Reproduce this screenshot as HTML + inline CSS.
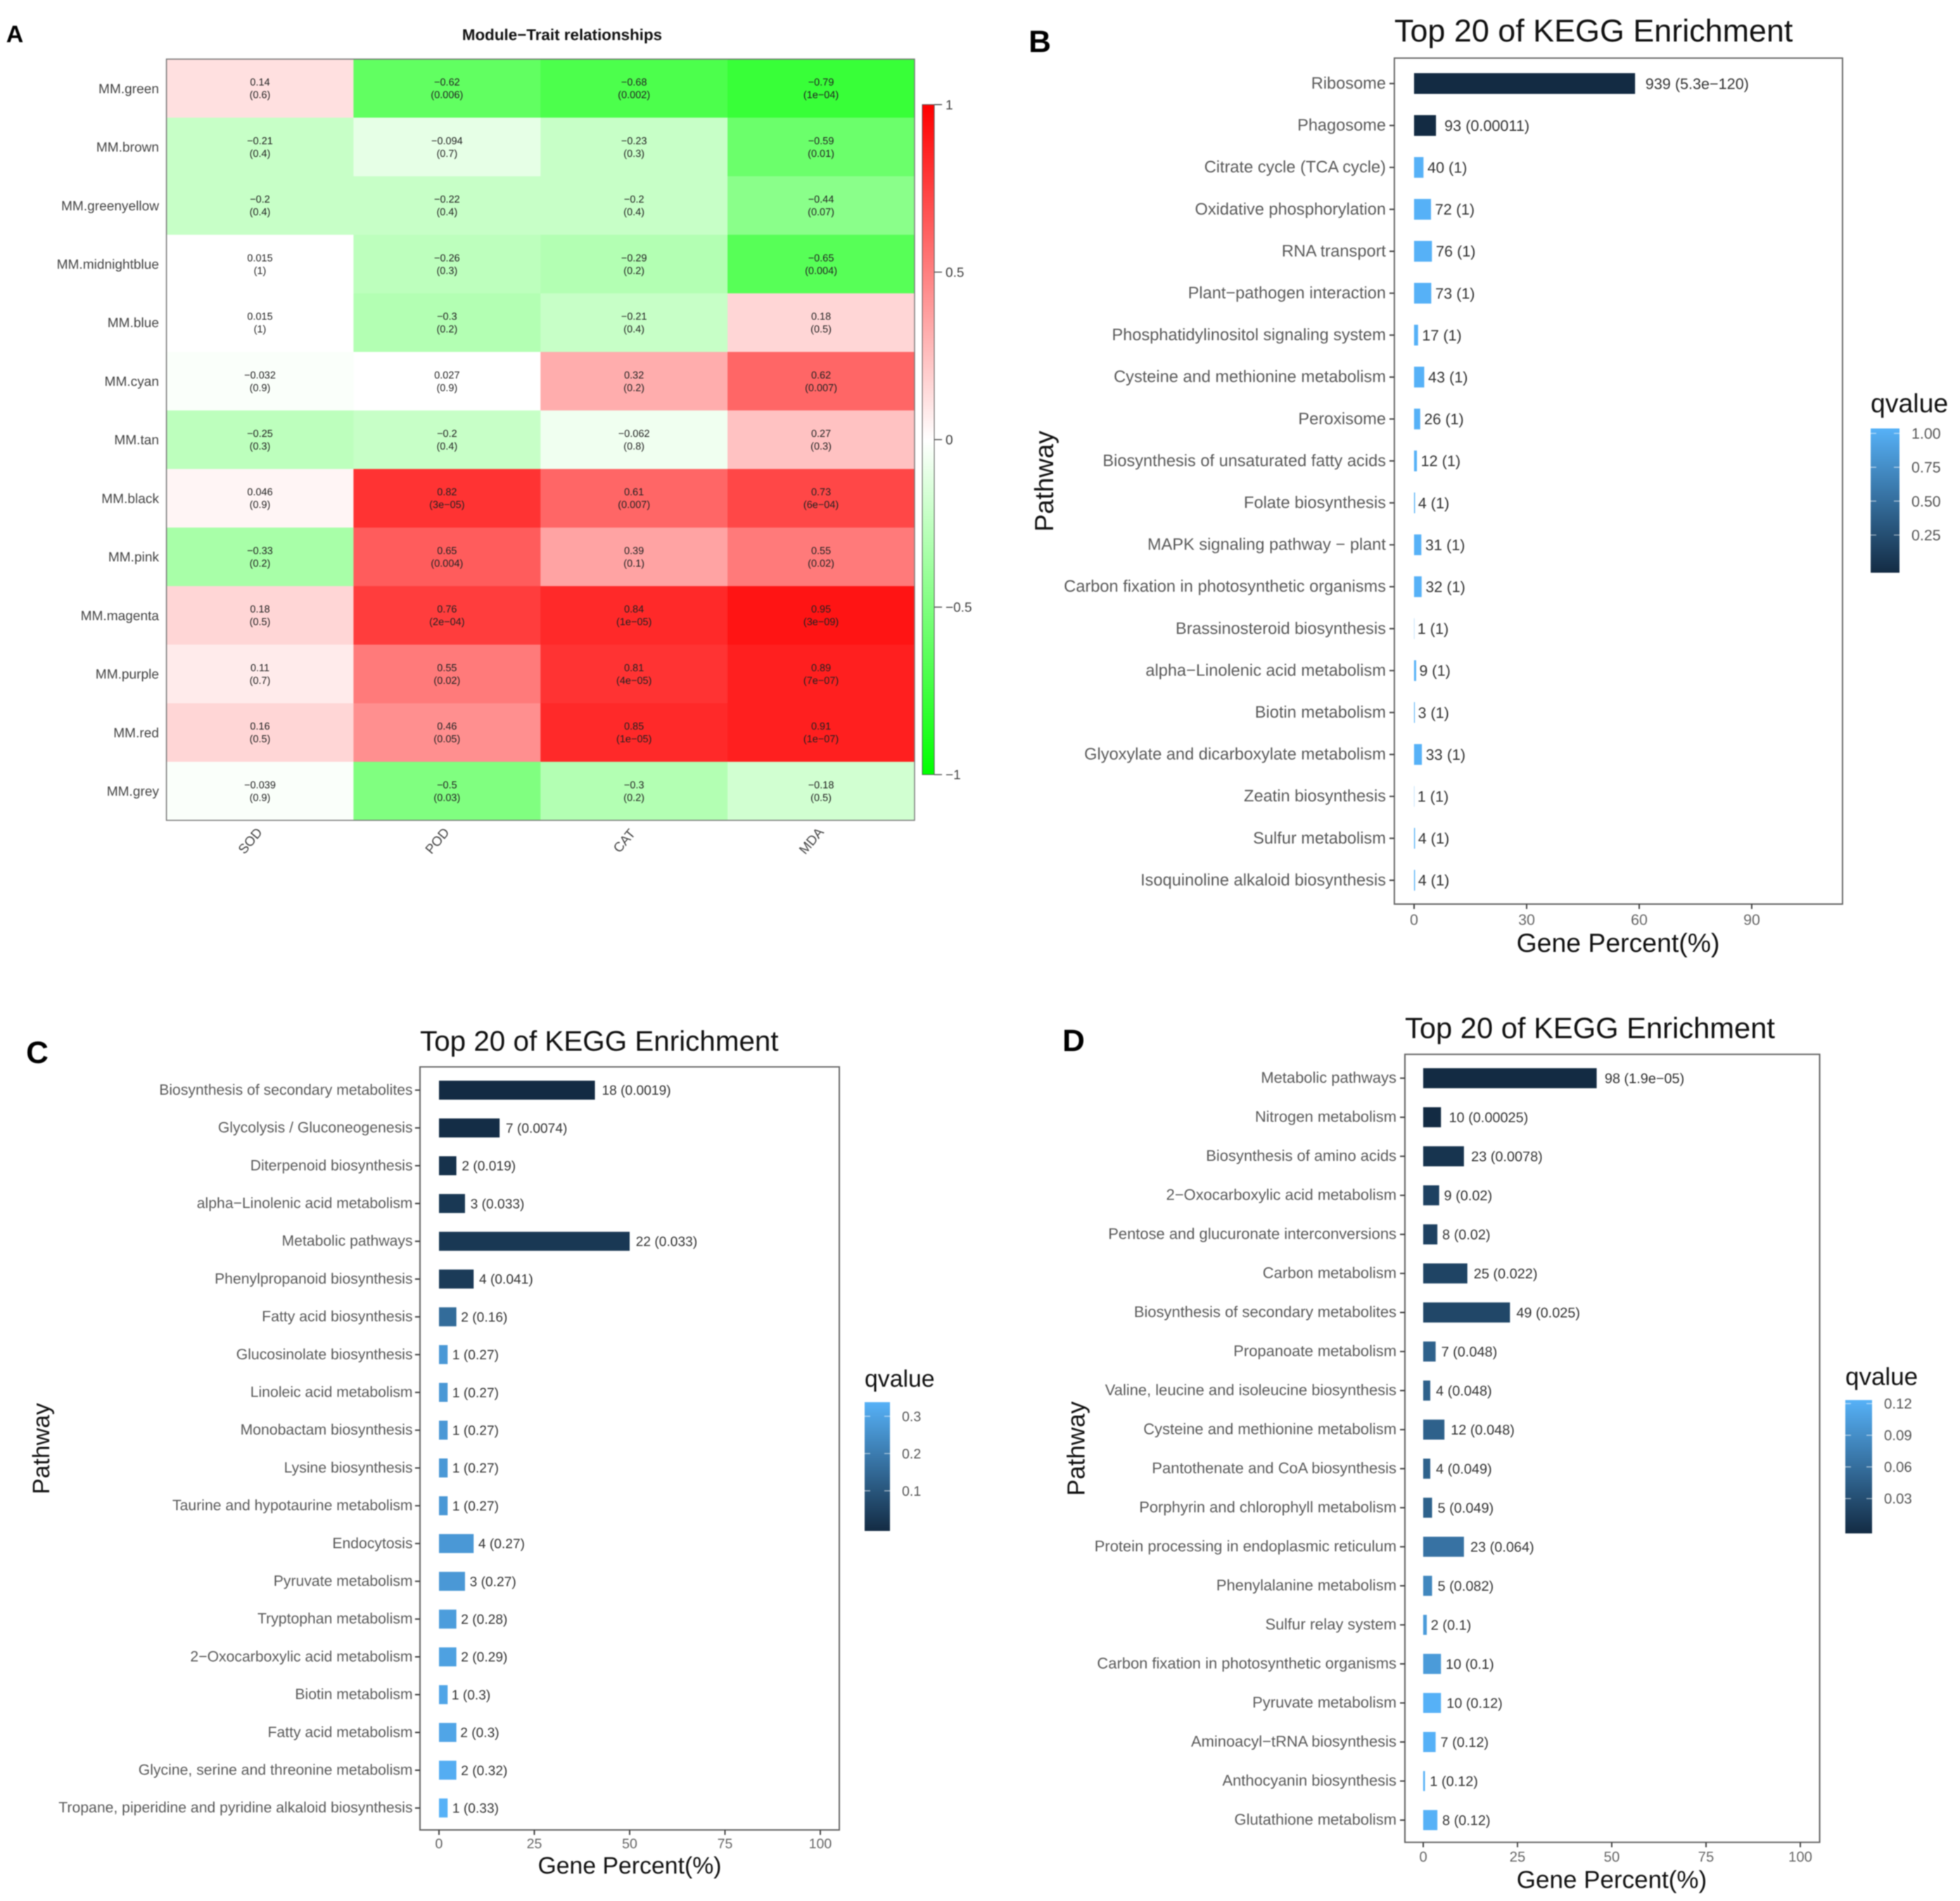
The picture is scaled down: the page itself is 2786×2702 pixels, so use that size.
<!DOCTYPE html>
<html lang="en">
<head>
<meta charset="utf-8">
<title>Module-Trait relationships and KEGG enrichment</title>
<style>
html,body{margin:0;padding:0;background:#fff;}
svg{display:block;font-family:"Liberation Sans",Arial,sans-serif;text-rendering:geometricPrecision;filter:blur(0.7px);}
</style>
</head>
<body>
<svg id="figure" xmlns="http://www.w3.org/2000/svg" width="2786" height="2702" viewBox="0 0 2786 2702">
<defs>
<linearGradient id="heat-gradient" x1="0" y1="0" x2="0" y2="1">
<stop offset="0" stop-color="#ff0000"/><stop offset="0.5" stop-color="#ffffff"/><stop offset="1" stop-color="#00ff00"/>
</linearGradient>
<linearGradient id="q-gradient" x1="0" y1="0" x2="0" y2="1">
<stop offset="0" stop-color="#56B1F7"/><stop offset="1" stop-color="#132B43"/>
</linearGradient>
</defs>
<rect width="2786" height="2702" fill="#fff"/>

<text x="21" y="60" font-size="34" font-weight="700" text-anchor="middle" fill="#000">A</text>
<text x="1478" y="74" font-size="44" font-weight="700" text-anchor="middle" fill="#000">B</text>
<text x="53" y="1511" font-size="44" font-weight="700" text-anchor="middle" fill="#000">C</text>
<text x="1526" y="1494" font-size="44" font-weight="700" text-anchor="middle" fill="#000">D</text>

<text x="799" y="57" font-size="22.4" font-weight="700" text-anchor="middle" fill="#111">Module−Trait relationships</text>
<g id="heatmap"></g>
<g id="panel-b"></g>
<g id="panel-c"></g>
<g id="panel-d"></g>
</svg>
<script>
/* ---------- Panel A data ---------- */
const heatRows = ['MM.green','MM.brown','MM.greenyellow','MM.midnightblue','MM.blue','MM.cyan','MM.tan','MM.black','MM.pink','MM.magenta','MM.purple','MM.red','MM.grey'];
const heatTraits = ['SOD','POD','CAT','MDA'];
const heatCorr = [
  [0.14,-0.62,-0.68,-0.79],
  [-0.21,-0.094,-0.23,-0.59],
  [-0.2,-0.22,-0.2,-0.44],
  [0.015,-0.26,-0.29,-0.65],
  [0.015,-0.3,-0.21,0.18],
  [-0.032,0.027,0.32,0.62],
  [-0.25,-0.2,-0.062,0.27],
  [0.046,0.82,0.61,0.73],
  [-0.33,0.65,0.39,0.55],
  [0.18,0.76,0.84,0.95],
  [0.11,0.55,0.81,0.89],
  [0.16,0.46,0.85,0.91],
  [-0.039,-0.5,-0.3,-0.18]
];
const heatP = [
  ['0.6','0.006','0.002','1e−04'],
  ['0.4','0.7','0.3','0.01'],
  ['0.4','0.4','0.4','0.07'],
  ['1','0.3','0.2','0.004'],
  ['1','0.2','0.4','0.5'],
  ['0.9','0.9','0.2','0.007'],
  ['0.3','0.4','0.8','0.3'],
  ['0.9','3e−05','0.007','6e−04'],
  ['0.2','0.004','0.1','0.02'],
  ['0.5','2e−04','1e−05','3e−09'],
  ['0.7','0.02','4e−05','7e−07'],
  ['0.5','0.05','1e−05','1e−07'],
  ['0.9','0.03','0.2','0.5']
];
const heatScaleTicks = [1,0.5,0,-0.5,-1];

/* ---------- Panel B data ---------- */
const bCategories = ['Ribosome','Phagosome','Citrate cycle (TCA cycle)','Oxidative phosphorylation','RNA transport','Plant−pathogen interaction','Phosphatidylinositol signaling system','Cysteine and methionine metabolism','Peroxisome','Biosynthesis of unsaturated fatty acids','Folate biosynthesis','MAPK signaling pathway − plant','Carbon fixation in photosynthetic organisms','Brassinosteroid biosynthesis','alpha−Linolenic acid metabolism','Biotin metabolism','Glyoxylate and dicarboxylate metabolism','Zeatin biosynthesis','Sulfur metabolism','Isoquinoline alkaloid biosynthesis'];
const bPercents = [58.9,5.83,2.51,4.51,4.76,4.58,1.07,2.7,1.63,0.75,0.25,1.94,2.01,0.06,0.56,0.19,2.07,0.06,0.25,0.25];
const bCounts = [939,93,40,72,76,73,17,43,26,12,4,31,32,1,9,3,33,1,4,4];
const bQvalues = [5.3e-120,0.00011,1,1,1,1,1,1,1,1,1,1,1,1,1,1,1,1,1,1];
const bXTicks = [0,30,60,90];
const bLegendTicks = ['1.00','0.75','0.50','0.25'];

/* ---------- Panel C data ---------- */
const cCategories = ['Biosynthesis of secondary metabolites','Glycolysis / Gluconeogenesis','Diterpenoid biosynthesis','alpha−Linolenic acid metabolism','Metabolic pathways','Phenylpropanoid biosynthesis','Fatty acid biosynthesis','Glucosinolate biosynthesis','Linoleic acid metabolism','Monobactam biosynthesis','Lysine biosynthesis','Taurine and hypotaurine metabolism','Endocytosis','Pyruvate metabolism','Tryptophan metabolism','2−Oxocarboxylic acid metabolism','Biotin metabolism','Fatty acid metabolism','Glycine, serine and threonine metabolism','Tropane, piperidine and pyridine alkaloid biosynthesis'];
const cPercents = [40.9,15.9,4.55,6.82,50,9.09,4.55,2.27,2.27,2.27,2.27,2.27,9.09,6.82,4.55,4.55,2.27,4.55,4.55,2.27];
const cCounts = [18,7,2,3,22,4,2,1,1,1,1,1,4,3,2,2,1,2,2,1];
const cQvalues = [0.0019,0.0074,0.019,0.033,0.033,0.041,0.16,0.27,0.27,0.27,0.27,0.27,0.27,0.27,0.28,0.29,0.3,0.3,0.32,0.33];
const cXTicks = [0,25,50,75,100];
const cLegendTicks = ['0.3','0.2','0.1'];

/* ---------- Panel D data ---------- */
const dCategories = ['Metabolic pathways','Nitrogen metabolism','Biosynthesis of amino acids','2−Oxocarboxylic acid metabolism','Pentose and glucuronate interconversions','Carbon metabolism','Biosynthesis of secondary metabolites','Propanoate metabolism','Valine, leucine and isoleucine biosynthesis','Cysteine and methionine metabolism','Pantothenate and CoA biosynthesis','Porphyrin and chlorophyll metabolism','Protein processing in endoplasmic reticulum','Phenylalanine metabolism','Sulfur relay system','Carbon fixation in photosynthetic organisms','Pyruvate metabolism','Aminoacyl−tRNA biosynthesis','Anthocyanin biosynthesis','Glutathione metabolism'];
const dPercents = [46,4.7,10.8,4.23,3.76,11.7,23,3.29,1.88,5.63,1.88,2.35,10.8,2.35,0.94,4.7,4.7,3.29,0.47,3.76];
const dCounts = [98,10,23,9,8,25,49,7,4,12,4,5,23,5,2,10,10,7,1,8];
const dQvalues = [1.9e-5,0.00025,0.0078,0.02,0.02,0.022,0.025,0.048,0.048,0.048,0.049,0.049,0.064,0.082,0.1,0.1,0.12,0.12,0.12,0.12];
const dXTicks = [0,25,50,75,100];
const dLegendTicks = ['0.12','0.09','0.06','0.03'];

const SVG_NS = 'http://www.w3.org/2000/svg';
function make(parent, tag, attrs, text) {
  const node = document.createElementNS(SVG_NS, tag);
  for (const k in attrs) node.setAttribute(k, attrs[k]);
  if (text !== undefined) node.textContent = text;
  parent.appendChild(node);
  return node;
}
function slug(s) {
  return String(s).toLowerCase().replace(/[^a-z0-9]+/g, '-').replace(/^-|-$/g, '');
}
function heatColor(v) {
  const level = (Math.floor(Math.abs(v) / 0.04) + (v < 0 ? 0.5 : 0)) * 0.04;
  const c = Math.round(255 * (1 - Math.min(level, 1)));
  return v >= 0 ? 'rgb(255,' + c + ',' + c + ')' : 'rgb(' + c + ',255,' + c + ')';
}
function qColor(t) {
  const lo = [19,43,67], hi = [86,177,247];
  return 'rgb(' + lo.map((c, i) => Math.round(c + (hi[i] - c) * t)).join(',') + ')';
}
function formatQ(q) {
  if (q < 1e-4) {
    const p = q.toExponential().split('e-');
    return p[0] + 'e−' + p[1].padStart(2, '0');
  }
  return String(q);
}

/* ---------- Heatmap ---------- */
(function drawHeatmap() {
  const g = document.getElementById('heatmap');
  const left = 236.6, right = 1300, top = 84, bottom = 1166;
  const colX = i => left + i * (right - left) / heatTraits.length;
  const rowY = i => top + i * (bottom - top) / heatRows.length;
  const cw = colX(1) - colX(0), ch = rowY(1) - rowY(0);
  let el;
  heatRows.forEach((row, r) => {
    heatTraits.forEach((trait, c) => {
      el = make(g, 'rect', {x: colX(c), y: rowY(r), width: cw + 0.5, height: ch + 0.5, fill: heatColor(heatCorr[r][c])});
      
      
      el = make(g, 'text', {x: colX(c) + cw / 2, y: rowY(r) + ch / 2 - 4, 'font-size': 14.5, 'text-anchor': 'middle', fill: '#222'}, String(heatCorr[r][c]).replace('-', '−'));
      
      
      el = make(g, 'text', {x: colX(c) + cw / 2, y: rowY(r) + ch / 2 + 14, 'font-size': 14.5, 'text-anchor': 'middle', fill: '#222'}, '(' + heatP[r][c] + ')');
      
      
    });
    el = make(g, 'text', {x: 226, y: rowY(r) + ch / 2, 'font-size': 19.1, 'text-anchor': 'end', dy: '0.35em', fill: '#444'}, row);
    
    
  });
  el = make(g, 'rect', {x: left, y: top, width: right - left, height: bottom - top, fill: 'none', stroke: '#777', 'stroke-width': 1.5});
  
  
  heatTraits.forEach((trait, c) => {
    const cx = colX(c) + cw / 2 - 14, cy = 1195;
    el = make(g, 'text', {x: cx, y: cy, 'font-size': 19, 'text-anchor': 'middle', dy: '0.35em', fill: '#444', transform: 'rotate(-50 ' + cx + ' ' + cy + ')'}, trait);
    
    
  });
  const barTop = 148.7, barBottom = 1101;
  const scaleY = v => barTop + (1 - v) / 2 * (barBottom - barTop);
  el = make(g, 'rect', {x: 1311, y: barTop, width: 17, height: barBottom - barTop, fill: 'url(#heat-gradient)', stroke: '#555', 'stroke-width': 1});
  
  
  heatScaleTicks.forEach(v => {
    el = make(g, 'line', {x1: 1328, x2: 1339, y1: scaleY(v), y2: scaleY(v), stroke: '#555', 'stroke-width': 1.5});
    
    
    el = make(g, 'text', {x: 1344, y: scaleY(v), 'font-size': 19, dy: '0.35em', fill: '#444'}, String(v).replace('-', '−'));
    
    
  });
})();

/* ---------- KEGG bar panels ---------- */
function drawPanel(id, data, cfg) {
  const g = document.getElementById(id);
  const xScale = v => cfg.x0 + v * cfg.pxPerPct;
  const yScale = i => cfg.y0 + i * cfg.rowStep;
  const qMin = Math.min.apply(null, data.qvalues);
  const qMax = Math.max.apply(null, data.qvalues);
  let el;
  el = make(g, 'text', {x: cfg.left, y: cfg.titleY, 'font-size': cfg.titleSize, dy: '0.35em', fill: '#111'}, 'Top 20 of KEGG Enrichment');
  
  
  el = make(g, 'rect', {x: cfg.left, y: cfg.top, width: cfg.right - cfg.left, height: cfg.bottom - cfg.top, fill: '#fff', stroke: '#666', 'stroke-width': 2});
  
  
  data.categories.forEach((cat, i) => {
    const y = yScale(i);
    el = make(g, 'line', {x1: cfg.left - 7, x2: cfg.left, y1: y, y2: y, stroke: '#444', 'stroke-width': 2});
    
    
    el = make(g, 'text', {x: cfg.labelX, y: y - 1, 'font-size': cfg.labelSize, 'text-anchor': 'end', dy: '0.35em', fill: '#5a5a5a'}, cat);
    
    
    const t = (data.qvalues[i] - qMin) / (qMax - qMin);
    const barEnd = xScale(data.percents[i]);
    el = make(g, 'rect', {x: cfg.x0, y: y - cfg.barH / 2, width: barEnd - cfg.x0, height: cfg.barH, fill: qColor(t)});
    
    
    const label = make(g, 'text', {x: barEnd, y: y, 'font-size': cfg.valueSize, dy: '0.35em', fill: '#333'}, data.counts[i] + ' (' + formatQ(data.qvalues[i]) + ')');
    
    
    label.setAttribute('x', barEnd + 0.1 * label.getComputedTextLength());
  });
  data.xTicks.forEach(v => {
    el = make(g, 'line', {x1: xScale(v), x2: xScale(v), y1: cfg.bottom, y2: cfg.bottom + 7, stroke: '#444', 'stroke-width': 2});
    
    
    el = make(g, 'text', {x: xScale(v), y: cfg.tickLabelY, 'font-size': cfg.tickSize, 'text-anchor': 'middle', dy: '0.35em', fill: '#666'}, v);
    
    
  });
  el = make(g, 'text', {x: cfg.xTitleX, y: cfg.xTitleY, 'font-size': cfg.axisTitleSize, 'text-anchor': 'middle', dy: '0.35em', fill: '#111'}, 'Gene Percent(%)');
  
  
  el = make(g, 'text', {x: cfg.yTitleX, y: cfg.yTitleY, 'font-size': cfg.axisTitleSize, 'text-anchor': 'middle', dy: '0.35em', fill: '#111', transform: 'rotate(-90 ' + cfg.yTitleX + ' ' + cfg.yTitleY + ')'}, 'Pathway');
  
  
  el = make(g, 'text', {x: cfg.legX, y: cfg.legTitleY, 'font-size': cfg.axisTitleSize, dy: '0.35em', fill: '#111'}, 'qvalue');
  
  
  el = make(g, 'rect', {x: cfg.legX, y: cfg.legTop, width: cfg.legW, height: cfg.legBottom - cfg.legTop, fill: 'url(#q-gradient)'});
  
  
  data.legendTicks.forEach(label => {
    const y = cfg.legTickY0 + (cfg.legTickV0 - parseFloat(label)) * cfg.legPxPerUnit;
    el = make(g, 'path', {d: 'M' + cfg.legX + ' ' + y + 'h8M' + (cfg.legX + cfg.legW - 8) + ' ' + y + 'h8', stroke: '#fff', 'stroke-opacity': 0.55, 'stroke-width': 1.5, fill: 'none'});
    
    
    el = make(g, 'text', {x: cfg.legLabelX, y: y, 'font-size': cfg.tickSize, dy: '0.35em', fill: '#555'}, label);
    
    
  });
}

drawPanel('panel-b',
  {categories: bCategories, percents: bPercents, counts: bCounts, qvalues: bQvalues, xTicks: bXTicks, legendTicks: bLegendTicks},
  {left: 1982, right: 2619, top: 82.6, bottom: 1285, titleY: 43.5, titleSize: 44.9, x0: 2010, pxPerPct: 5.333, y0: 118.75, rowStep: 59.6, barH: 29.5, labelX: 1970, labelSize: 23.6, valueSize: 21.6, tickSize: 21.4, tickLabelY: 1307, axisTitleSize: 37.4, xTitleX: 2300, xTitleY: 1340, yTitleX: 1484, yTitleY: 684, legX: 2659, legW: 41, legTop: 609, legBottom: 814, legTitleY: 573, legLabelX: 2717, legTickV0: 1, legTickY0: 616, legPxPerUnit: 192.6});

drawPanel('panel-c',
  {categories: cCategories, percents: cPercents, counts: cCounts, qvalues: cQvalues, xTicks: cXTicks, legendTicks: cLegendTicks},
  {left: 597, right: 1193, top: 1516.4, bottom: 2601, titleY: 1479.5, titleSize: 40.4, x0: 624, pxPerPct: 5.42, y0: 1549.5, rowStep: 53.7, barH: 27, labelX: 586.6, labelSize: 21.2, valueSize: 19.2, tickSize: 19.6, tickLabelY: 2620, axisTitleSize: 33.8, xTitleX: 895, xTitleY: 2651, yTitleX: 58, yTitleY: 2059, legX: 1229, legW: 36, legTop: 1993, legBottom: 2176, legTitleY: 1959, legLabelX: 1282, legTickV0: 0.3, legTickY0: 2013, legPxPerUnit: 530});

drawPanel('panel-d',
  {categories: dCategories, percents: dPercents, counts: dCounts, qvalues: dQvalues, xTicks: dXTicks, legendTicks: dLegendTicks},
  {left: 1997, right: 2586.5, top: 1498.6, bottom: 2618.6, titleY: 1461, titleSize: 41.7, x0: 2023, pxPerPct: 5.36, y0: 1532.5, rowStep: 55.5, barH: 28.5, labelX: 1985, labelSize: 21.95, valueSize: 19.9, tickSize: 20.4, tickLabelY: 2639, axisTitleSize: 35, xTitleX: 2291, xTitleY: 2671, yTitleX: 1529, yTitleY: 2059, legX: 2623, legW: 38, legTop: 1990, legBottom: 2179.5, legTitleY: 1956, legLabelX: 2678, legTickV0: 0.12, legTickY0: 1995, legPxPerUnit: 1500});
</script>
</body>
</html>
